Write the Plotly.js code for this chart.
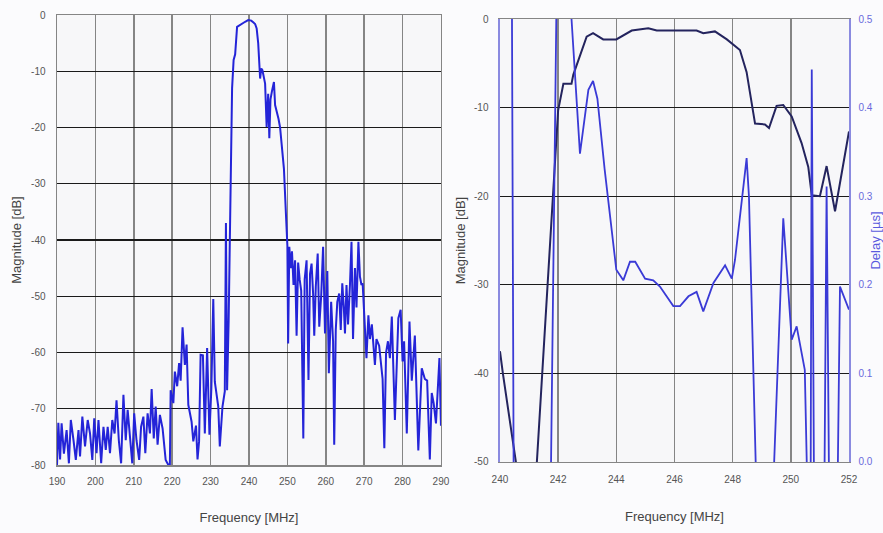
<!DOCTYPE html>
<html>
<head>
<meta charset="utf-8">
<script src="https://cdn.plot.ly/plotly-3.0.1.min.js"></script>
<style>
html,body{margin:0;padding:0;background:#fbfbfd;}
#chart{width:883px;height:533px;}
</style>
</head>
<body>
<div id="chart"></div>
<script>
// ---- Left panel: wideband magnitude response ----
const wideFreq = [190.0,190.35,190.8,191.2,191.8,192.5,193.1,193.6,194.3,194.9,195.6,196.0,196.6,197.3,198.0,198.6,199.2,199.7,200.3,200.8,201.5,202.1,202.7,203.2,203.8,204.4,205.0,205.5,206.1,206.7,207.3,207.9,208.4,209.0,209.6,210.1,210.7,211.4,211.9,212.5,213.0,213.6,214.2,214.65,215.2,215.7,216.2,216.8,217.5,218.3,219.0,219.4,219.6,220.3,220.7,221.3,221.8,222.2,222.7,223.3,223.75,224.2,225.05,225.5,226.2,226.6,227.0,227.4,228.0,228.5,229.1,229.7,230.2,230.7,231.1,232.0,232.4,233.1,233.7,234.0,234.3,234.7,235.0,235.3,235.6,236.0,236.4,236.9,237.5,238.1,239.0,239.8,240.6,241.1,241.6,242.0,242.4,242.9,243.2,243.5,243.8,244.2,244.6,245.0,245.3,245.6,246.0,246.5,246.8,247.2,247.7,248.1,248.6,249.1,249.6,249.8,250.0,250.2,250.5,250.9,251.2,251.6,252.0,252.4,252.8,253.2,253.6,254.15,254.5,255.0,255.5,255.9,256.3,256.7,257.0,257.4,257.9,258.3,258.8,259.3,259.8,260.4,260.8,261.4,261.9,262.2,262.6,263.0,263.5,263.9,264.3,264.7,265.0,265.4,265.8,266.3,266.7,267.1,267.6,268.0,268.5,268.9,269.3,269.6,270.0,270.6,271.1,271.5,272.0,272.8,273.2,273.9,274.8,275.25,275.7,276.2,276.7,277.2,278.0,278.5,278.9,279.5,280.0,280.4,281.1,281.8,282.4,283.2,284.1,285.0,285.8,286.4,287.1,287.6,288.1,288.7,289.6,290.0];
const wideMag = [-80,-72.5,-79,-72.6,-78,-73.8,-79.7,-72,-75.6,-79.1,-73.8,-78.5,-71.4,-76.7,-72,-74.4,-79.1,-71.7,-77.9,-72,-79.7,-73.2,-77.3,-73.2,-77.9,-72,-74.4,-68.5,-75.6,-79.7,-67.5,-75.6,-70.2,-74.4,-79.7,-70.8,-75.6,-79.1,-73.2,-71.4,-77.9,-70.8,-74.4,-66.5,-75.3,-69.6,-76.4,-71.1,-73.5,-79.1,-80,-80,-66.7,-69,-63.4,-66,-61.9,-65,-55.5,-62.2,-58.6,-69.3,-72.3,-75.8,-73,-79,-75.8,-60.4,-60.5,-74.4,-59.2,-74.6,-66.4,-50.5,-65.2,-69.6,-76.7,-69.6,-66.9,-37,-66.7,-54.5,-40,-29,-13,-8,-7,-2.1,-1.8,-1.6,-1.2,-0.9,-1.0,-1.3,-1.6,-2.4,-5,-11.3,-9.5,-9.8,-11,-12.2,-19.9,-14,-21.9,-15,-13.5,-11.9,-16,-17,-18.5,-20,-23.5,-27.3,-35,-40,-41,-58.4,-41.2,-45,-42,-48,-43.6,-57,-44,-47,-49,-75.3,-47,-43.6,-64.9,-46,-44.2,-49.5,-57,-48.3,-42.4,-55.4,-50,-41.2,-56.6,-45.5,-63.7,-51,-58,-76.4,-56,-51,-49.5,-56,-47.7,-52,-56.6,-48,-55,-48,-40.3,-57.6,-45,-52,-40.3,-46.5,-48,-47.7,-53.4,-61,-53.4,-57.6,-55,-62.2,-57.6,-58.8,-64.7,-77,-60,-58,-61,-53.6,-72,-60,-53.9,-52.4,-61.6,-58,-74.4,-54.5,-65,-57,-77.4,-62.8,-64.7,-65,-79,-67.2,-69,-72.6,-61,-73];

// ---- Right panel: passband magnitude and group delay ----
const passFreq = [240.0,240.1,240.57,241.26,242.0,242.18,242.46,242.52,242.98,243.2,243.55,244.0,244.53,245.1,245.39,246.0,246.76,246.99,247.39,247.8,248.25,248.48,248.71,248.77,249.11,249.25,249.51,249.74,250.03,250.37,250.6,250.72,251.0,251.23,251.52,251.69,252.0];
const passMag = [-37.5,-40,-50.5,-50.5,-10.3,-7.3,-7.3,-6.3,-2.0,-1.6,-2.3,-2.3,-1.3,-1.05,-1.3,-1.3,-1.3,-1.6,-1.4,-2.3,-3.5,-6.0,-10.6,-11.8,-11.9,-12.3,-9.8,-9.7,-11.0,-14.0,-16.7,-19.9,-20.0,-16.6,-21.7,-18.6,-12.7];
const delayFreq = [240.0,240.40,240.48,241.72,241.98,242.44,242.46,242.75,243.04,243.2,243.35,243.6,244.0,244.24,244.47,244.65,244.99,245.27,245.5,245.96,246.19,246.48,246.76,246.99,247.34,247.74,247.97,248.08,248.37,248.48,248.56,248.83,249.37,249.74,249.8,250.03,250.2,250.48,250.58,250.68,250.72,250.8,251.15,251.23,251.32,251.6,251.69,252.0];
const delayUs = [0.62,0.62,-0.1,-0.1,0.62,0.62,0.5,0.348,0.42,0.43,0.41,0.33,0.217,0.205,0.226,0.226,0.207,0.205,0.198,0.176,0.176,0.187,0.192,0.170,0.202,0.222,0.207,0.228,0.311,0.343,0.30,-0.05,-0.05,0.275,0.247,0.138,0.153,0.104,-0.05,-0.05,0.443,-0.05,-0.05,0.311,-0.05,-0.05,0.198,0.172];

// ---- Tick labels ----
const wideXTicks = [190,200,210,220,230,240,250,260,270,280,290];
const wideYTicks = [0,-10,-20,-30,-40,-50,-60,-70,-80];
const wideYLabels = ['0','-10','-20','-30','-40','-50','-60','-70','-80'];
const passXTicks = [240,242,244,246,248,250,252];
const passYTicks = [0,-10,-20,-30,-40,-50];
const passYLabels = ['0','-10','-20','-30','-40','-50'];
const delayTicks = [0,0.1,0.2,0.3,0.4,0.5];
const delayLabels = ['0.0','0.1','0.2','0.3','0.4','0.5'];

const tickFont = {family:'Liberation Sans, Arial, sans-serif', size:10, color:'#555'};
const titleFont = {family:'Liberation Sans, Arial, sans-serif', size:13, color:'#444'};

const traces = [
  {x:wideFreq, y:wideMag, xaxis:'x', yaxis:'y', mode:'lines',
   line:{color:'#2424d8', width:2}, name:'Magnitude'},
  {x:delayFreq, y:delayUs, xaxis:'x2', yaxis:'y3', mode:'lines',
   line:{color:'#3a3ad6', width:1.8}, name:'Delay'},
  {x:passFreq, y:passMag, xaxis:'x2', yaxis:'y2', mode:'lines',
   line:{color:'#24245e', width:2}, name:'Magnitude'}
];

const layout = {
  width:883, height:533,
  margin:{l:57, r:34, t:15, b:68},
  paper_bgcolor:'#fbfbfd', plot_bgcolor:'#f7f7f9',
  showlegend:false,
  xaxis:{domain:[0,0.4848], range:[190,290], tickvals:wideXTicks, ticktext:wideXTicks.map(String),
    showgrid:true, gridcolor:'#858585', gridwidth:1.5, zeroline:false,
    showline:true, mirror:true, linecolor:'#858585', linewidth:1.5,
    ticks:'', tickfont:tickFont, ticklabelstandoff:6,
    title:{text:'Frequency [MHz]', font:titleFont, standoff:27}},
  yaxis:{domain:[0,1], range:[-80,0], tickvals:wideYTicks, ticktext:wideYLabels,
    showgrid:true, gridcolor:'#1a1a1a', gridwidth:1.3, zeroline:false,
    showline:true, mirror:true, linecolor:'#858585', linewidth:1.5,
    ticks:'', tickfont:tickFont, ticklabelstandoff:8,
    title:{text:'Magnitude [dB]', font:titleFont, standoff:6}},
  xaxis2:{domain:[0.5593,1], anchor:'y2', range:[240,252], tickvals:passXTicks, ticktext:passXTicks.map(String),
    showgrid:true, gridcolor:'#858585', gridwidth:1.5, zeroline:false,
    showline:true, mirror:true, linecolor:'#858585', linewidth:1.5,
    ticks:'', tickfont:tickFont, ticklabelstandoff:8,
    title:{text:'Frequency [MHz]', font:titleFont, standoff:27}},
  yaxis2:{domain:[0.0067,0.9911], anchor:'x2', range:[-50,0], tickvals:passYTicks, ticktext:passYLabels,
    showgrid:true, gridcolor:'#1a1a1a', gridwidth:1.3, zeroline:false,
    showline:true, linecolor:'#8a8ae0', linewidth:1.5,
    ticks:'', tickfont:tickFont, ticklabelstandoff:8,
    title:{text:'Magnitude [dB]', font:titleFont, standoff:5}},
  yaxis3:{domain:[0.0067,0.9911], anchor:'x2', overlaying:'y2', side:'right', range:[0,0.5],
    tickvals:delayTicks, ticktext:delayLabels,
    showgrid:false, zeroline:false,
    showline:true, linecolor:'#8a8ae0', linewidth:1.5,
    ticks:'', tickfont:{family:'Liberation Sans, Arial, sans-serif', size:10, color:'#6a6adc'}, ticklabelstandoff:6,
    title:{text:'Delay [µs]', font:{family:'Liberation Sans, Arial, sans-serif', size:13, color:'#5a5ade'}, standoff:6}}
};

Plotly.newPlot('chart', traces, layout, {displayModeBar:false, staticPlot:true});
</script>
</body>
</html>
